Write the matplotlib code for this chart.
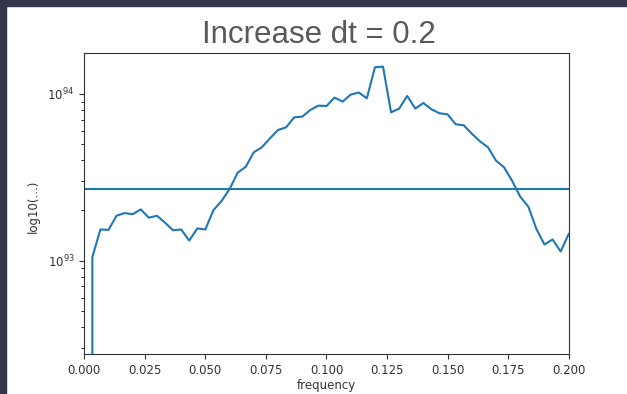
import numpy as np
import matplotlib
matplotlib.use("Agg")
import matplotlib.pyplot as plt
from matplotlib.patches import Rectangle

# frequency bins, spacing 1/300 (index 0 is the zero-frequency bin)
freq = np.arange(61) / 300.0

# spectrum values (first bin is ~0)
power = [
    0.0,
    1.05e93, 1.54e93, 1.53e93, 1.86e93, 1.93e93, 1.90e93, 2.03e93, 1.81e93,
    1.86e93, 1.69e93, 1.52e93, 1.54e93, 1.32e93, 1.56e93, 1.54e93, 2.01e93,
    2.28e93, 2.69e93, 3.37e93, 3.66e93, 4.47e93, 4.79e93, 5.42e93, 6.08e93,
    6.31e93, 7.24e93, 7.31e93, 8.02e93, 8.51e93, 8.47e93, 9.51e93, 9.00e93,
    9.91e93, 1.02e94, 9.42e93, 1.445e94, 1.46e94, 7.76e93, 8.17e93, 9.73e93,
    8.17e93, 8.83e93, 8.09e93, 7.66e93, 7.55e93, 6.58e93, 6.49e93, 5.78e93,
    5.20e93, 4.79e93, 3.98e93, 3.63e93, 3.01e93, 2.42e93, 2.11e93, 1.55e93,
    1.25e93, 1.34e93, 1.135e93, 1.445e93,
]

# horizontal reference level
mean_level = 2.70e93

title = "Increase dt = 0.2"

fig = plt.figure(figsize=(6.27, 3.94), dpi=100)
fig.patch.set_facecolor("white")

# dark slide edges from the screenshot
fig.patches.append(Rectangle((0, 0.985), 1, 0.015, transform=fig.transFigure,
                             color="#33364f", zorder=0))
fig.patches.append(Rectangle((0, 0), 0.0096, 1, transform=fig.transFigure,
                             color="#34344a", zorder=0))

fig.text(0.508, 0.89, title, ha="center", va="baseline",
         fontsize=22.5, color="#595959", family="Liberation Sans")

ax = fig.add_axes([0.1344, 0.1015, 0.7726, 0.7632])
ax.plot(freq, power, color="#1f77b4", lw=1.5)
ax.axhline(mean_level, color="#1f77b4", lw=1.5)
ax.set_yscale("log")
ax.set_xlim(0, 0.2)
ax.set_ylim(10**92.44, 10**94.244)
ax.set_xticks(np.arange(0, 0.2001, 0.025))
ax.tick_params(labelsize=8.5, colors="#333333")
ax.set_xlabel("frequency", fontsize=8.5, color="#333333", labelpad=1.5)
ax.set_ylabel("log10(...)", fontsize=8.5, color="#333333")
ax.yaxis.set_label_coords(-0.092, 0.49)
for s in ax.spines.values():
    s.set_color("#333333")

fig.savefig("out.png", dpi=100)
